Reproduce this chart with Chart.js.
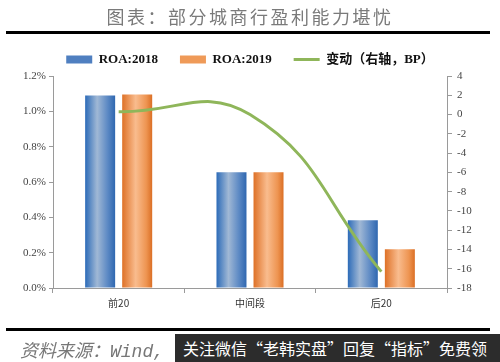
<!DOCTYPE html>
<html>
<head>
<meta charset="utf-8">
<script src="https://cdn.jsdelivr.net/npm/chart.js@4.4.0/dist/chart.umd.min.js"></script>
<style>
  html, body { margin: 0; padding: 0; background: #fff; }
  #wrap { position: relative; width: 500px; height: 362px; overflow: hidden; }
  #chart { position: absolute; left: 0; top: 0; }
  .title { position: absolute; left: 0; width: 500px; top: 4px; text-align: center;
    font-family: "Noto Sans CJK SC", sans-serif; font-size: 18px; letter-spacing: 2.5px; color: #7a7a7a; line-height: 24px; }
  .rule { position: absolute; left: 6px; width: 484px; height: 3px; background: #000; }
  .source { position: absolute; left: 20px; top: 337px; font-family: "Noto Sans CJK SC", sans-serif;
    font-style: italic; font-size: 18px; color: #777; line-height: 24px; }
  .source span { font-family: "Liberation Mono", monospace; }
  .promo { position: absolute; left: 175px; top: 334px; width: 325px; height: 28px; background: #2c2c2c;
    color: #fff; font-family: "Noto Sans CJK SC", sans-serif; font-size: 16px; line-height: 28px; padding-left: 8px; box-sizing: border-box; white-space: nowrap; }
</style>
</head>
<body>
<div id="wrap">
  <canvas id="chart" width="500" height="362"></canvas>
  <div class="title">图表：部分城商行盈利能力堪忧</div>
  <div class="rule" style="top:31px"></div>
  <div class="rule" style="top:328px"></div>
  <div class="source">资料来源：<span>Wind,</span></div>
  <div class="promo">关注微信“老韩实盘”回复“指标”免费领</div>
</div>
<script>
// data
const categories = ['前20', '中间段', '后20'];
const roa2018 = [1.09, 0.655, 0.383];   // %
const roa2019 = [1.095, 0.655, 0.22];   // %
const changeBP = [0.3, 0, -16.3];       // right axis, BP
const leftTicks = { min: 0, max: 1.2, step: 0.2 };
const rightTicks = { min: -18, max: 4, step: 2 };

const CAT_PCT = 0.564;
const BAR_PCT = 0.81;
const solids = ['#4f7fc0', '#ef9a58', '#8fb65a'];
const stops = [
    [[0, '#2c6bb8'], [0.4, '#a0b8d5'], [0.75, '#5c89c4'], [1, '#2f67b0']],
    [[0, '#de7127'], [0.45, '#f9bc8e'], [0.8, '#ee9552'], [1, '#db6f25']]
];

// cylinder-like horizontal gradient for each bar
function barFill(c) {
    const xs = c.chart.scales.x;
    if (c.type !== 'data' || !xs || !isFinite(xs.width) || !xs.width) return solids[c.datasetIndex];
    const slice = xs.width / categories.length * CAT_PCT / 2;
    const w = slice * BAR_PCT;
    const cx = xs.getPixelForValue(c.dataIndex) + (c.datasetIndex === 0 ? -0.5 : 0.5) * slice;
    if (!isFinite(cx)) return solids[c.datasetIndex];
    const g = c.chart.ctx.createLinearGradient(cx - w / 2, 0, cx + w / 2, 0);
    stops[c.datasetIndex].forEach(s => g.addColorStop(s[0], s[1]));
    return g;
}

const tickFont = { family: '"Liberation Serif", serif', size: 11 };
const axisGray = '#9a9a9a';

new Chart(document.getElementById('chart').getContext('2d'), {
    type: 'bar',
    data: {
        labels: categories,
        datasets: [
            { label: 'ROA:2018', data: roa2018, backgroundColor: barFill, yAxisID: 'y',
              categoryPercentage: CAT_PCT, barPercentage: BAR_PCT, order: 2 },
            { label: 'ROA:2019', data: roa2019, backgroundColor: barFill, yAxisID: 'y',
              categoryPercentage: CAT_PCT, barPercentage: BAR_PCT, order: 2 },
            { type: 'line', label: '变动（右轴，BP）', data: changeBP, yAxisID: 'y1',
              borderColor: solids[2], backgroundColor: solids[2], borderWidth: 3,
              pointRadius: 0, tension: 0.45, order: 1 }
        ]
    },
    options: {
        responsive: false,
        animation: false,
        layout: { padding: { top: 31, bottom: 44, left: 0, right: 0 } },
        plugins: {
            tooltip: { enabled: false },
            legend: {
                position: 'top',
                labels: {
                    usePointStyle: true,
                    pointStyleWidth: 26,
                    boxHeight: 8,
                    padding: 22,
                    color: '#111',
                    font: { family: '"Liberation Serif", "Noto Sans CJK SC", serif', size: 13, weight: 'bold' },
                    generateLabels(chart) {
                        const items = Chart.defaults.plugins.legend.labels.generateLabels(chart);
                        items.sort((a, b) => a.datasetIndex - b.datasetIndex);
                        items.forEach(it => {
                            const i = it.datasetIndex;
                            it.fillStyle = solids[i];
                            it.strokeStyle = solids[i];
                            it.pointStyle = i === 2 ? 'line' : 'rect';
                            it.lineWidth = i === 2 ? 3 : 0;
                        });
                        return items;
                    }
                }
            }
        },
        scales: {
            x: {
                grid: { offset: true, drawOnChartArea: false, tickLength: 5, color: axisGray },
                border: { color: axisGray },
                ticks: { color: '#333', padding: 4, font: { family: '"Noto Sans CJK SC", sans-serif', size: 10 } },
                afterFit(s) { s.height = 30; }
            },
            y: {
                position: 'left',
                min: leftTicks.min, max: leftTicks.max,
                grid: { drawOnChartArea: false, tickLength: 4, color: axisGray },
                border: { color: axisGray },
                ticks: { stepSize: leftTicks.step, color: '#444', padding: 3, font: tickFont,
                         callback: v => v.toFixed(1) + '%' },
                afterFit(s) { s.width = 53; }
            },
            y1: {
                position: 'right',
                min: rightTicks.min, max: rightTicks.max,
                grid: { drawOnChartArea: false, tickLength: 5, color: axisGray },
                border: { color: axisGray },
                ticks: { stepSize: rightTicks.step, color: '#444', padding: 5, font: tickFont },
                afterFit(s) { s.width = 53; }
            }
        }
    }
});
</script>
</body>
</html>
